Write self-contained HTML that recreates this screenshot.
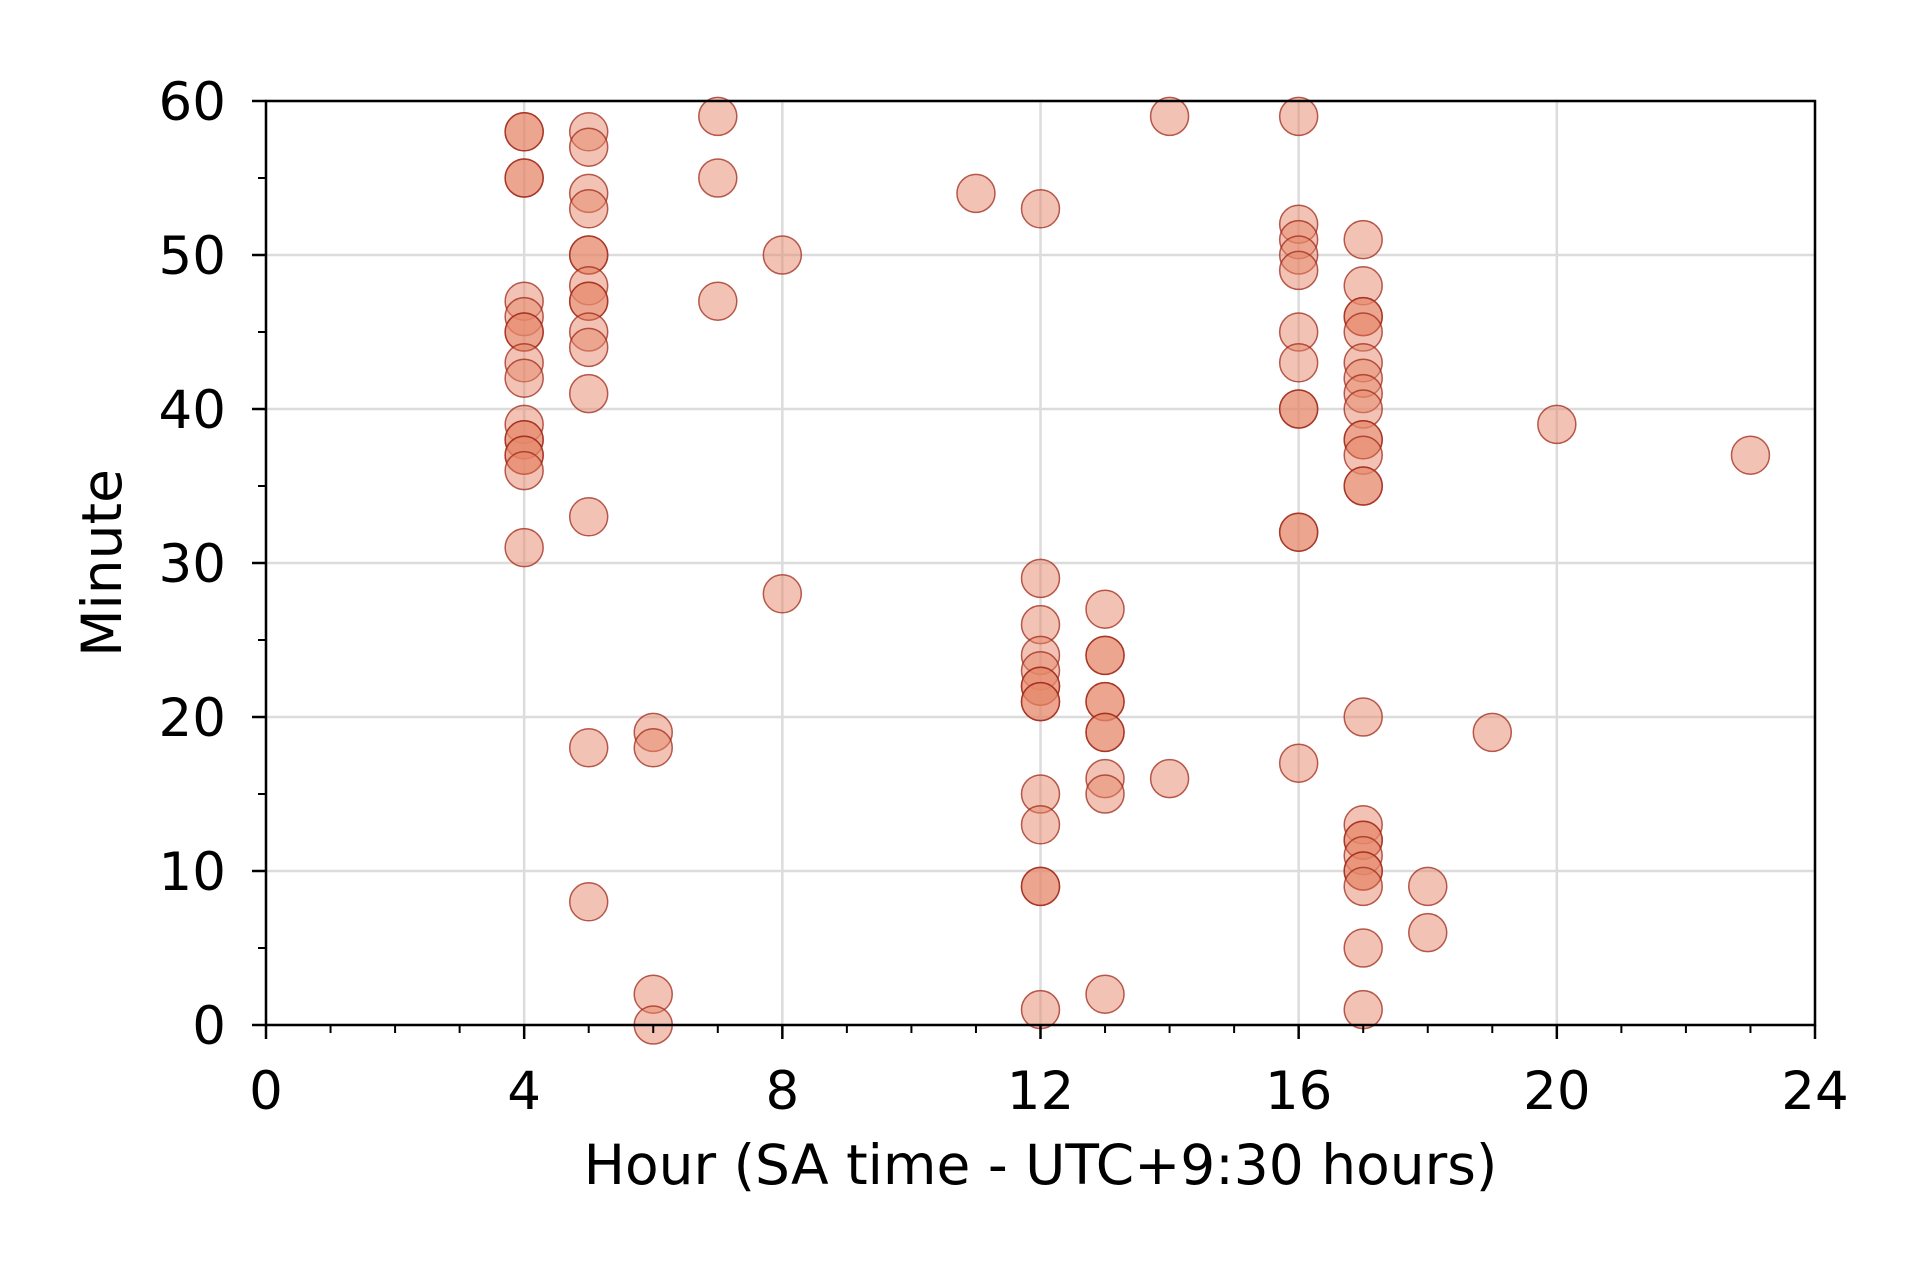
<!DOCTYPE html>
<html><head><meta charset="utf-8"><style>
body{margin:0;background:#fff}
svg text{font-family:"DejaVu Sans","Liberation Sans",sans-serif;fill:#000}
</style></head><body>
<svg id="chart" width="1931" height="1274" xmlns="http://www.w3.org/2000/svg">
<rect width="1931" height="1274" fill="#fff"/>
<g id="grid"></g><g id="pts"></g><g id="axes"></g>
</svg>
<script>
const hours=[4,4,4,4,4,4,4,4,4,4,4,4,4,4,4,4,4,
5,5,5,5,5,5,5,5,5,5,5,5,5,5,5,
6,6,6,6, 7,7,7, 8,8, 11,
12,12,12,12,12,12,12,12,12,12,12,12,12,12,
13,13,13,13,13,13,13,13,13,13,
14,14,
16,16,16,16,16,16,16,16,16,16,16,16,
17,17,17,17,17,17,17,17,17,17,17,17,17,17,17,17,17,17,17,17,17,17,17,17,
18,18,19,20,23];
const minutes=[58,58,55,55,47,46,45,45,43,42,39,38,38,37,37,36,31,
58,57,54,53,50,50,48,47,47,45,44,41,33,18,8,
19,18,2,0, 59,55,47, 50,28, 54,
53,29,26,24,23,22,22,21,21,15,13,9,9,1,
27,24,24,21,21,19,19,16,15,2,
59,16,
59,52,51,50,49,45,43,40,40,32,32,17,
51,48,46,46,45,43,42,41,40,38,38,37,35,35,20,13,12,12,11,10,10,9,5,1,
9,6,19,39,37];
const xTicks=[0,4,8,12,16,20,24];
const yTicks=[0,10,20,30,40,50,60];
const NS='http://www.w3.org/2000/svg';
const X0=266,X1=1815,Y0=1025,Y1=101;
const sx=v=>X0+(v-0)/24*(X1-X0);
const sy=v=>Y0-(v-0)/60*(Y0-Y1);
function mk(tag,attrs,parent){const e=document.createElementNS(NS,tag);for(const k in attrs)e.setAttribute(k,attrs[k]);parent.appendChild(e);return e;}
const grid=document.getElementById('grid'),pts=document.getElementById('pts'),axes=document.getElementById('axes');
xTicks.forEach(t=>{const l=mk('line',{x1:sx(t),x2:sx(t),y1:Y1,y2:Y0,stroke:'#dcdcdc','stroke-width':2.5},grid);

});
yTicks.forEach(t=>{const l=mk('line',{x1:X0,x2:X1,y1:sy(t),y2:sy(t),stroke:'#dcdcdc','stroke-width':2.5},grid);

});
hours.forEach((h,i)=>{const c=mk('circle',{cx:sx(h),cy:sy(minutes[i]),r:19,fill:'#e5876a','fill-opacity':0.5,stroke:'#a0281a','stroke-opacity':0.75,'stroke-width':1.5},pts);

});
for(let h=0;h<=24;h++){const maj=h%4===0;mk('line',{x1:sx(h),x2:sx(h),y1:Y0,y2:Y0+(maj?14:8),stroke:'#000','stroke-width':maj?2.5:2},axes);}
for(let m=0;m<=60;m+=5){const maj=m%10===0;mk('line',{x1:X0,x2:X0-(maj?14:8),y1:sy(m),y2:sy(m),stroke:'#000','stroke-width':maj?2.5:2},axes);}
xTicks.forEach(t=>{const tx=mk('text',{x:sx(t),y:1109,'text-anchor':'middle','font-size':53},axes);tx.textContent=t;

});
yTicks.forEach(t=>{const tx=mk('text',{x:226,y:sy(t)+19,'text-anchor':'end','font-size':53},axes);tx.textContent=t;

});
const fr=mk('rect',{x:X0,y:Y1,width:X1-X0,height:Y0-Y1,fill:'none',stroke:'#000','stroke-width':2.5},axes);


const xl=mk('text',{x:(X0+X1)/2,y:1184,'text-anchor':'middle','font-size':55},axes);xl.textContent='Hour (SA time - UTC+9:30 hours)';


const yl=mk('text',{x:0,y:0,'text-anchor':'middle','font-size':55,transform:`translate(121,${(Y0+Y1)/2}) rotate(-90)`},axes);yl.textContent='Minute';


</script>
</body></html>
